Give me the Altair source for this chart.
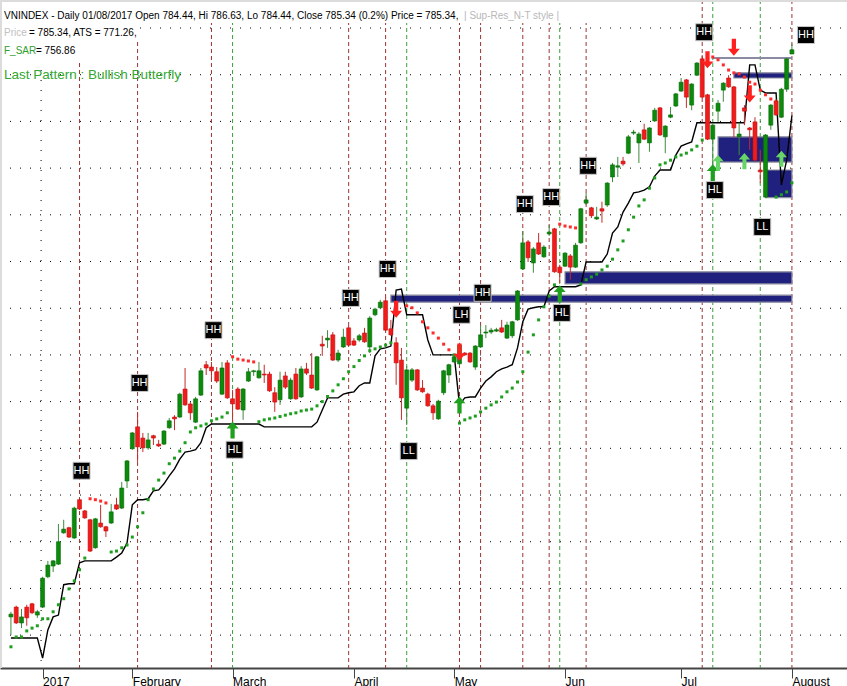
import altair as alt
import pandas as pd

# ---------------- data ----------------
opens = [663.9, 666.0, 662.6, 666.0, 666.7, 664.3, 666.0, 672.5, 674.8, 675.2,
         681.9, 683.0, 680.8, 689.0, 686.6, 684.7, 678.7, 684.0, 683.2, 684.0,
         687.9, 687.2, 693.0, 699.9, 704.6, 702.2, 700.1, 702.7, 700.9, 700.9,
         704.4, 706.7, 706.7, 712.7, 709.5, 705.6, 711.4, 717.9, 717.4, 716.4,
         711.6, 718.3, 710.6, 712.7, 708.2, 714.4, 716.4, 715.1, 715.9, 715.9,
         711.9, 710.4, 715.5, 710.6, 715.9, 711.0, 717.0, 715.7, 712.5, 722.3,
         723.2, 724.3, 718.9, 721.7, 725.8, 723.0, 723.2, 724.7, 721.7, 728.6,
         730.1, 731.6, 725.6, 722.6, 718.9, 708.6, 714.6, 716.8, 712.9, 711.6,
         709.1, 706.3, 711.9, 715.7, 718.5, 718.1, 720.4, 720.4, 717.4, 721.7,
         724.7, 724.9, 725.1, 725.8, 723.6, 724.1, 727.5, 738.4, 744.2, 739.7,
         744.0, 741.0, 745.9, 747.0, 738.8, 739.0, 741.2, 738.8, 744.0, 752.5,
         751.5, 749.1, 751.3, 752.1, 758.1, 760.2, 761.5, 763.2, 767.5, 765.4,
         768.2, 765.4, 770.1, 772.9, 766.7, 770.9, 773.3, 776.5, 778.9, 773.5,
         779.9, 783.4, 775.7, 766.2, 772.2, 776.7, 779.3, 777.4, 766.7, 772.9,
         768.6, 769.9, 759.6, 753.8, 769.2, 774.4, 770.9, 776.9, 784.44]
highs = [665.0, 666.3, 665.6, 666.5, 666.9, 665.4, 672.5, 675.9, 676.1, 683.8,
         684.7, 683.2, 687.5, 689.2, 686.8, 684.9, 685.1, 687.9, 683.4, 688.1,
         689.4, 692.8, 697.5, 703.5, 707.8, 703.3, 703.3, 702.9, 701.8, 703.9,
         706.5, 707.1, 711.9, 717.2, 709.9, 711.0, 717.2, 718.7, 718.5, 717.4,
         718.5, 718.9, 712.5, 713.1, 712.9, 717.2, 716.8, 718.5, 717.9, 716.4,
         713.1, 716.4, 716.4, 715.1, 717.2, 717.6, 718.3, 720.4, 719.8, 724.1,
         725.3, 724.9, 721.1, 725.6, 726.2, 723.6, 724.5, 725.8, 728.3, 730.1,
         731.8, 732.4, 727.5, 723.8, 721.5, 717.6, 717.2, 717.0, 714.6, 711.9,
         709.5, 710.4, 716.8, 718.1, 720.0, 722.6, 720.6, 720.6, 722.1, 726.4,
         726.4, 725.8, 725.8, 727.5, 727.1, 727.3, 733.9, 746.5, 744.6, 743.1,
         746.1, 743.5, 747.8, 747.2, 739.3, 742.0, 741.6, 744.0, 751.5, 754.7,
         751.7, 751.7, 752.8, 757.0, 761.1, 762.4, 762.4, 767.1, 768.2, 767.7,
         769.5, 768.8, 772.9, 773.1, 769.2, 773.1, 776.1, 779.3, 779.1, 778.2,
         782.7, 784.2, 775.9, 769.5, 774.6, 778.4, 779.9, 777.6, 769.7, 773.5,
         768.8, 770.9, 763.9, 767.3, 773.7, 774.8, 777.2, 783.6, 786.63]
lows = [660.0, 662.4, 661.5, 662.0, 664.5, 663.7, 665.8, 672.2, 673.5, 675.0,
        681.7, 680.8, 680.6, 686.8, 684.9, 677.8, 678.5, 683.0, 681.0, 683.8,
        686.8, 687.0, 691.5, 699.7, 697.1, 699.2, 699.7, 700.7, 700.3, 700.7,
        704.2, 703.9, 706.5, 709.1, 706.1, 705.4, 711.2, 715.7, 714.6, 714.0,
        711.4, 710.6, 705.4, 708.2, 706.1, 714.2, 715.5, 714.9, 714.0, 712.1,
        707.8, 709.3, 712.7, 710.4, 710.4, 710.8, 715.7, 712.7, 712.3, 719.8,
        721.5, 718.7, 718.5, 721.5, 721.9, 721.9, 722.8, 722.6, 720.4, 728.3,
        729.8, 725.1, 724.1, 713.6, 706.1, 705.0, 714.2, 712.3, 711.9, 708.9,
        706.1, 706.1, 711.4, 714.0, 718.3, 717.6, 719.8, 718.3, 716.8, 721.5,
        723.6, 724.5, 724.9, 724.7, 723.4, 723.6, 727.3, 738.2, 739.9, 737.6,
        741.4, 740.8, 745.5, 737.6, 735.4, 738.8, 736.1, 738.6, 743.8, 752.1,
        749.3, 748.9, 748.3, 751.7, 757.0, 758.1, 760.5, 763.0, 767.1, 761.1,
        766.0, 763.5, 769.9, 766.9, 763.2, 770.7, 773.1, 776.3, 772.9, 772.4,
        779.7, 775.0, 766.0, 760.2, 769.9, 774.2, 777.2, 766.5, 762.8, 769.2,
        763.9, 761.5, 756.8, 753.6, 768.2, 771.2, 770.7, 776.3, 784.44]
closes = [664.5, 662.6, 663.9, 663.7, 664.8, 665.0, 672.2, 675.0, 675.9, 680.0,
          682.7, 681.0, 687.2, 687.0, 685.1, 678.0, 684.9, 683.2, 682.3, 686.4,
          687.0, 691.5, 697.3, 703.3, 700.3, 700.1, 701.8, 702.2, 700.5, 703.7,
          705.9, 706.3, 711.6, 709.3, 707.6, 710.6, 716.6, 717.2, 716.6, 714.4,
          717.2, 710.8, 709.5, 708.4, 712.7, 716.4, 716.6, 716.6, 715.7, 712.3,
          709.9, 714.6, 713.1, 714.6, 710.6, 717.0, 716.1, 712.9, 719.6, 721.9,
          723.6, 718.9, 720.4, 723.8, 722.1, 722.1, 724.1, 722.8, 727.9, 729.8,
          731.3, 725.3, 724.3, 718.3, 710.8, 716.8, 716.8, 712.5, 712.1, 709.1,
          707.6, 710.1, 716.6, 717.9, 719.6, 722.1, 720.0, 718.5, 721.9, 724.3,
          724.9, 725.3, 725.4, 724.9, 726.4, 727.1, 733.7, 744.0, 740.8, 742.7,
          741.6, 743.1, 746.3, 737.8, 737.6, 741.8, 738.8, 743.5, 751.3, 753.2,
          749.8, 749.5, 750.8, 756.8, 760.7, 760.5, 760.9, 766.7, 767.7, 767.3,
          766.2, 768.6, 772.4, 767.1, 769.0, 771.4, 775.9, 778.4, 775.2, 778.0,
          782.5, 775.2, 766.2, 769.2, 773.9, 778.2, 777.4, 768.6, 767.3, 772.2,
          768.2, 761.7, 759.2, 767.1, 773.5, 771.4, 776.9, 783.4, 785.34]
ats = [659.4, 659.4, 659.4, 659.4, 659.4, 659.4, 655.1, 661.1, 663.9, 664.3,
       670.8, 671.0, 671.0, 675.5, 675.9, 675.9, 675.9, 675.9, 675.9, 675.9,
       676.7, 677.6, 679.7, 687.9, 689.0, 689.0, 689.2, 690.9, 691.1, 692.4,
       694.1, 695.6, 697.7, 699.2, 699.4, 699.7, 701.2, 704.4, 705.2, 705.2,
       705.2, 705.2, 705.2, 705.2, 705.2, 705.2, 705.2, 705.2, 704.6, 704.6,
       704.6, 704.6, 704.6, 704.6, 704.6, 704.6, 704.6, 704.6, 705.6, 708.2,
       710.8, 710.8, 710.8, 711.6, 711.9, 712.1, 713.4, 714.0, 714.0, 719.8,
       721.3, 721.5, 721.9, 733.9, 734.1, 728.6, 728.6, 728.6, 728.6, 723.2,
       720.0, 720.0, 720.0, 720.0, 720.0, 709.3, 710.8, 711.0, 711.0, 712.9,
       714.4, 715.3, 716.4, 717.0, 717.4, 717.9, 721.5, 727.1, 729.8, 730.1,
       730.3, 730.3, 733.7, 734.6, 734.6, 734.6, 734.6, 734.6, 735.0, 739.9,
       739.9, 739.9, 739.9, 741.6, 746.1, 747.4, 750.6, 752.5, 754.7, 754.9,
       755.3, 756.0, 758.3, 759.6, 759.6, 759.6, 762.8, 764.7, 765.2, 765.6,
       769.7, 769.7, 769.7, 769.7, 769.7, 769.7, 769.7, 769.7, 769.7, 769.7,
       782.1, 782.1, 776.7, 776.1, 776.1, 776.1, 756.4, 761.7, 771.26]
sar = [657.5, 659.6, 659.6, 660.9, 661.5, 662.0, 663.5, 663.5, 665.0, 666.5,
       667.8, 669.9, 671.6, 674.0, 676.5, 689.2, 689.0, 688.7, 688.3, 677.8,
       678.0, 678.7, 679.3, 681.0, 683.2, 686.2, 689.0, 691.3, 693.2, 694.7,
       696.7, 697.9, 699.4, 701.2, 703.5, 704.4, 704.8, 705.2, 705.9, 706.3,
       706.7, 707.6, 719.6, 719.1, 718.9, 718.7, 718.5, 705.7, 706.1, 706.3,
       706.5, 706.8, 707.1, 707.4, 707.6, 708.0, 708.2, 708.4, 709.1, 710.0,
       711.1, 712.3, 713.6, 714.9, 716.4, 717.5, 718.8, 719.8, 720.9, 721.3,
       721.7, 722.1, 722.6, None, None, 730.5, 730.1, 729.0, 727.1, 725.8,
       724.7, 723.6, 722.3, 721.1, 720.0, 705.4, 706.1, 706.5, 706.9, 707.8,
       708.6, 709.3, 709.9, 711.0, 712.1, 712.9, 714.2, 716.4, 720.6, 724.3,
       727.5, 730.3, 732.6, 735.0, 748.0, 747.6, 747.4, 747.2, 735.2, 736.1,
       736.7, 737.3, 738.2, 739.0, 740.5, 742.5, 744.4, 746.8, 749.5, 751.9,
       753.2, 755.7, 757.9, 760.7, 761.1, 761.7, 762.4, 762.8, 763.2, 763.9,
       764.7, 766.0, None, 783.8, 783.2, 782.1, 781.0, 780.4, 780.2, 779.5,
       778.4, 778.0, 776.7, 775.7, 774.8, 753.8, 754.3, 754.9, 756.86]

month_idx = [6, 23, 42, 65, 84, 105, 127, 148]
month_lbl = ["2017", "February", "March", "April", "May", "Jun", "Jul", "August"]
year_idx = [6]
grid_levels = [660, 670, 680, 690, 700, 710, 720, 730, 740, 750, 760, 770, 780, 790]

lbl_idx = [13, 24, 38, 42, 64, 71, 75, 85, 89, 97, 102, 104, 109, 131, 133, 142, 148]
lbl_text = ["HH", "HH", "HH", "HL", "HH", "HH", "LL", "LH", "HH", "HH", "HH", "HL",
            "HH", "HH", "HL", "LL", "HH"]
lbl_price = [695.2, 714.0, 725.3, 699.7, 732.2, 738.4, 699.4, 728.6, 733.3, 752.3,
             753.8, 729.0, 760.5, 789.1, 755.3, 747.4, 788.5]

zone_start = [72, 105, 134, 143, 137]
zone_end = [148, 148, 148, 148, 148]
zone_top = [732.8, 737.8, 766.7, 759.6, 780.4]
zone_bot = [731.3, 735.2, 761.3, 753.7, 779.3]
res_start = [133]
res_end = [148]
res_level = [783.6]

arr_idx = [42, 73, 85, 85, 104, 132, 137, 140, 133, 134, 139, 146]
arr_price = [703.9, 729.8, 720.6, 709.3, 733.1, 783.2, 785.9, 775.9, 759.0, 761.1, 761.5, 762.0]
arr_kind = ["up", "down", "down", "up", "up", "down", "down", "down", "up",
            "uplight", "uplight", "uplight"]

hdr_text = ["VNINDEX - Daily 01/08/2017 Open 784.44, Hi 786.63, Lo 784.44, Close 785.34 (0.2%) Price = 785.34,",
            "| Sup-Res_N-T style |", "Price", "= 785.34, ATS = 771.26,", "F_SAR", "= 756.86",
            "Last Pattern : Bullish Butterfly"]

# ---------------- styling ----------------
W, H = 847, 668
FONT = "Liberation Sans, Arial, sans-serif"
GREEN = "#0B8A0B"
RED = "#F21B1B"
GREEN_WICK = "#3F8A3F"
RED_WICK = "#C42A2A"

n = len(opens)
df = pd.DataFrame({"i": list(range(n)), "o": opens, "h": highs, "l": lows,
                   "c": closes, "ats": ats, "sar": sar})

XS = alt.Scale(domain=[-1.124, 157.49], nice=False, zero=False)
YS = alt.Scale(domain=[652.96, 796.0], nice=False, zero=False)

expr = "".join(f"datum.value == {v} ? '{t}' : " for v, t in zip(month_idx, month_lbl)) + "''"
xaxis = alt.Axis(values=month_idx, labelExpr=expr, title=None, grid=False,
                 tickSize=10, tickColor="#444444", domainColor="#444444", domainWidth=2,
                 labelAlign="left", labelBaseline="top", labelPadding=-2, labelOffset=0,
                 labelFont=FONT, labelFontSize=12, labelColor="black",
                 labelOverlap=False, labelFlush=False)
X = alt.X("i:Q", scale=XS, axis=xaxis)


def Y(field):
    return alt.Y(f"{field}:Q", scale=YS, axis=None)


up_cond = "datum.c >= datum.o"

grid = alt.Chart(pd.DataFrame({"g": grid_levels})).mark_rule(
    color="black", strokeDash=[1, 9], strokeWidth=1
).encode(y=Y("g"), x=alt.value(0), x2=alt.value(W))

ldf = pd.DataFrame({"i": lbl_idx, "t": lbl_text, "p": lbl_price})
vlines = alt.Chart(ldf).mark_rule(strokeDash=[4, 3], strokeWidth=1).encode(
    x=X, y=alt.value(0), y2=alt.value(H),
    color=alt.condition("slice(datum.t, 1) == 'H'", alt.value("#9E3333"), alt.value("#3AA03A")),
)

yearline = alt.Chart(pd.DataFrame({"i": year_idx})).mark_rule(
    color="black", strokeDash=[1, 9], strokeWidth=1, xOffset=-1.5
).encode(x=X, y=alt.value(0), y2=alt.value(H))

zdf = pd.DataFrame({"i": zone_start, "i2": zone_end, "top": zone_top, "bot": zone_bot})
zones = alt.Chart(zdf).mark_rect(color="#20207E", stroke="#8E8EA0", strokeWidth=1.2).encode(
    x=X, x2="i2:Q", y=Y("top"), y2="bot:Q")

rdf = pd.DataFrame({"i": res_start, "i2": res_end, "lv": res_level})
resline = alt.Chart(rdf).mark_rule(color="#8A8AA2", strokeWidth=2).encode(
    x=X, x2="i2:Q", y=Y("lv"))

ats_line = alt.Chart(df).mark_line(color="black", strokeWidth=1.4).encode(x=X, y=Y("ats"))

wicks = alt.Chart(df).mark_rule(strokeWidth=1).encode(
    x=X, y=Y("l"), y2="h:Q",
    color=alt.condition(up_cond, alt.value(GREEN_WICK), alt.value(RED_WICK)))

bodies = alt.Chart(df).mark_bar(size=4, strokeWidth=0.6).encode(
    x=X, y=Y("o"), y2="c:Q",
    fill=alt.condition(up_cond, alt.value(GREEN), alt.value(RED)),
    stroke=alt.condition(up_cond, alt.value("#086A08"), alt.value("#C01010")))

sar_pts = alt.Chart(df).transform_filter("isValid(datum.sar)").mark_square(
    size=9, opacity=1).encode(
    x=X, y=Y("sar"),
    color=alt.condition("datum.sar > datum.h", alt.value("#FF2A2A"), alt.value("#1E9E1E")))

UP = "M0,-1L0.7,-0.2L0.25,-0.2L0.25,1L-0.25,1L-0.25,-0.2L-0.7,-0.2Z"
DOWN = "M0,1L0.7,0.2L0.25,0.2L0.25,-1L-0.25,-1L-0.25,0.2L-0.7,0.2Z"
adf = pd.DataFrame({"i": arr_idx, "p": arr_price, "k": arr_kind})
arr_up = alt.Chart(adf).transform_filter("datum.k == 'up'").mark_point(
    shape=UP, size=290, filled=True, opacity=1, color="#1FA01F").encode(x=X, y=Y("p"))
arr_uplight = alt.Chart(adf).transform_filter("datum.k == 'uplight'").mark_point(
    shape=UP, size=260, filled=True, opacity=1, color="#66D466").encode(x=X, y=Y("p"))
arr_down = alt.Chart(adf).transform_filter("datum.k == 'down'").mark_point(
    shape=DOWN, size=290, filled=True, opacity=1, color="#FF2020").encode(x=X, y=Y("p"))

last_i = n - 1
lbl_main = ldf[ldf["i"] != last_i]
lbl_edge = ldf[ldf["i"] == last_i]


def label_layers(d, off):
    box = alt.Chart(d).mark_square(size=289, fill="black", stroke="#C8C8C8",
                                   strokeWidth=1, opacity=1, xOffset=off).encode(x=X, y=Y("p"))
    txt = alt.Chart(d).mark_text(color="white", font=FONT, fontSize=11, dx=off,
                                 baseline="middle", align="center").encode(
        x=X, y=Y("p"), text="t:N")
    return [box, txt]


one = pd.DataFrame({"a": [0]})


def bg(x1, x2, y1, y2):
    return alt.Chart(one).mark_rect(color="white").encode(
        x=alt.value(x1), x2=alt.value(x2), y=alt.value(y1), y2=alt.value(y2))


def hdr(k, x, y, color, size=10):
    return alt.Chart(pd.DataFrame({"t": [hdr_text[k]]})).mark_text(
        align="left", baseline="alphabetic", font=FONT, fontSize=size, color=color
    ).encode(x=alt.value(x), y=alt.value(y), text="t:N")


border_top = alt.Chart(one).mark_rule(color="#DCDCDC", strokeWidth=2).encode(
    x=alt.value(0), x2=alt.value(W), y=alt.value(1))
border_left = alt.Chart(one).mark_rule(color="#DCDCDC", strokeWidth=2).encode(
    x=alt.value(1), y=alt.value(0), y2=alt.value(H))

layers = [grid, vlines, yearline, zones, resline, ats_line, wicks, bodies, sar_pts,
          arr_up, arr_uplight, arr_down]
layers += label_layers(lbl_main, 2) + label_layers(lbl_edge, 14)
layers += [bg(0, 592, 0, 23), bg(0, 140, 23, 40), bg(0, 82, 40, 61),
           hdr(0, 4, 19, "black"), hdr(1, 464, 19, "#B8B8B8"),
           hdr(2, 4, 36, "#C0C0C0"), hdr(3, 29, 36, "black"),
           hdr(4, 4, 54, "#2E9E2E"), hdr(5, 36, 54, "black"),
           hdr(6, 4, 79, "#33A833", 13.5),
           border_top, border_left]

chart = alt.layer(*layers).properties(
    width=W, height=H,
    padding={"left": 0, "top": 0, "right": 0, "bottom": 18},
    autosize=alt.AutoSizeParams(type="none"),
    background="white",
).configure_view(strokeWidth=0)

chart.save("out.html", embed_options={"renderer": "svg", "actions": False})
